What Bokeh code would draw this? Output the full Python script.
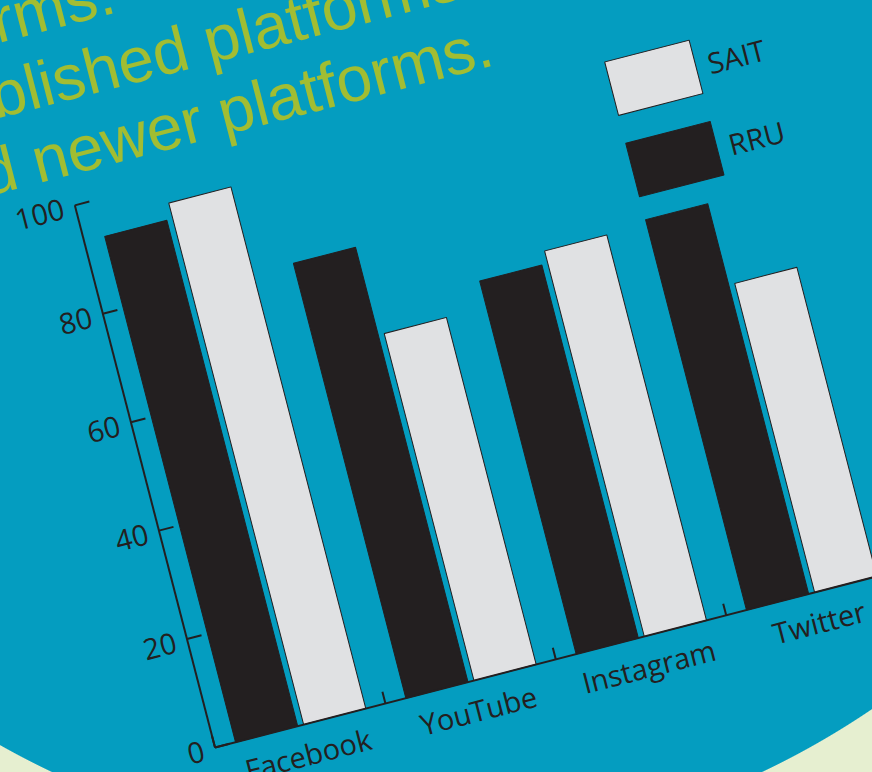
from bokeh.plotting import figure
from bokeh.models import (ColumnDataSource, Range1d, FixedTicker, Legend, LegendItem, Label,
                          GlobalInlineStyleSheet)
from bokeh.transform import dodge
from bokeh.embed import file_html
from bokeh.resources import INLINE

# ---- data ----
platforms = ["Facebook", "YouTube", "Instagram", "Twitter"]
rru = [93.3, 80.2, 68.8, 72.0]     # dark bars
sait = [96.2, 64.0, 71.1, 57.0]    # light bars
y_ticks = [0, 20, 40, 60, 80, 100]
series_names = ["SAIT", "RRU"]
title_lines = ["Students use many platforms:", "established platforms", "and newer platforms."]

# ---- styles / geometry ----
TEAL = "#049dc0"
CREAM = "#e6efd0"
DARK = "#231f20"
LIGHT = "#e0e1e3"
TITLE_GREEN = "#a2bd32"
FONT = "Open Sans"
ANGLE = 14.5                 # tilt of the whole graphic (deg, counter-clockwise)
ORIGIN_ON_PAGE = (215, 747)  # where the axes' corner lands in the window
PX_X, PX_Y = 176, 5.6        # pixels per category / per percent
X_LO, X_HI = -1.6, 4.3
Y_LO, Y_HI = -45, 150
B_LEFT, B_TOP, B_RIGHT, B_BOTTOM = 120, 10, 10, 80

fw = int(round((X_HI - X_LO) * PX_X))
fh = int(round((Y_HI - Y_LO) * PX_Y))

x_pos = [i + 0.5 for i in range(len(platforms))]
src = ColumnDataSource(dict(x=x_pos, rru=rru, sait=sait))

p = figure(frame_width=fw, frame_height=fh,
           x_range=Range1d(X_LO, X_HI), y_range=Range1d(Y_LO, Y_HI),
           output_backend="svg", toolbar_location=None,
           min_border_left=B_LEFT, min_border_top=B_TOP,
           min_border_right=B_RIGHT, min_border_bottom=B_BOTTOM)
p.title.visible = False
p.background_fill_color = None
p.border_fill_color = None
p.outline_line_color = None
p.grid.visible = False

r_rru = p.vbar(x=dodge("x", -0.2, range=p.x_range), top="rru", width=0.365, source=src,
               fill_color=DARK, line_color=DARK, line_width=1)
r_sait = p.vbar(x=dodge("x", 0.2, range=p.x_range), top="sait", width=0.365, source=src,
                fill_color=LIGHT, line_color=DARK, line_width=1)

# x axis: labels at group centres, small ticks at group boundaries
xa = p.xaxis[0]
xa.fixed_location = 0
xa.bounds = (0, len(platforms))
xa.ticker = FixedTicker(ticks=x_pos, minor_ticks=list(range(len(platforms) + 1)))
xa.major_label_overrides = {xv: name for xv, name in zip(x_pos, platforms)}
xa.major_tick_in = 0
xa.major_tick_out = 0
xa.minor_tick_in = 12
xa.minor_tick_out = 0
xa.minor_tick_line_color = DARK
xa.minor_tick_line_width = 2
xa.axis_line_color = DARK
xa.axis_line_width = 2
xa.major_label_standoff = 10
xa.major_label_text_font = FONT
xa.major_label_text_font_size = "29px"
xa.major_label_text_color = DARK

ya = p.yaxis[0]
ya.fixed_location = 0
ya.bounds = (0, 100)
ya.ticker = FixedTicker(ticks=y_ticks)
ya.major_tick_in = 15
ya.major_tick_out = 0
ya.major_tick_line_color = DARK
ya.major_tick_line_width = 2
ya.minor_tick_line_color = None
ya.axis_line_color = DARK
ya.axis_line_width = 2
ya.major_label_standoff = 12
ya.major_label_text_font = FONT
ya.major_label_text_font_size = "29px"
ya.major_label_text_color = DARK

# legend (screen offsets from the frame's lower-left corner)
leg_x = int(round(537 + (0 - X_LO) * PX_X))
leg_y = int(round(420 + (0 - Y_LO) * PX_Y))
legend = Legend(items=[LegendItem(label=series_names[0], renderers=[r_sait]),
                       LegendItem(label=series_names[1], renderers=[r_rru])],
                location=(leg_x, leg_y), orientation="vertical",
                glyph_width=109, glyph_height=69, spacing=15,
                label_standoff=2, padding=0, margin=0,
                border_line_color=None, background_fill_alpha=0,
                label_text_font=FONT, label_text_font_size="29px",
                label_text_color=DARK)
p.add_layout(legend)

# title lines (partly outside the visible window, as in the original)
title_pos = [(0.511, 135.4, "right"), (-1.0, 122.4, "left"), (-0.88, 109.4, "left")]
for text, (tx, ty, al) in zip(title_lines, title_pos):
    p.add_layout(Label(x=tx, y=ty, text=text, text_font="Liberation Sans",
                       text_font_size="64px", text_color=TITLE_GREEN,
                       text_align=al, text_baseline="alphabetic"))

# tilt the whole graphic around the axes' corner
ox = B_LEFT + (0 - X_LO) * PX_X
oy = B_TOP + (Y_HI - 0) * PX_Y
tx_, ty_ = ORIGIN_ON_PAGE[0] - ox, ORIGIN_ON_PAGE[1] - oy
p.styles = {"transform": f"translate({tx_:.1f}px, {ty_:.1f}px) rotate(-{ANGLE}deg)",
            "transform-origin": f"{ox:.1f}px {oy:.1f}px"}
p.stylesheets = [GlobalInlineStyleSheet(css=(
    "html, body { overflow: hidden; margin: 0; }"
    f"html {{ background: radial-gradient(circle 828px at 407px 24px, {TEAL} 827.5px, {CREAM} 828.5px); }}"
    "body { background: transparent; }"))]

open("out.html", "w").write(file_html(p, INLINE))
